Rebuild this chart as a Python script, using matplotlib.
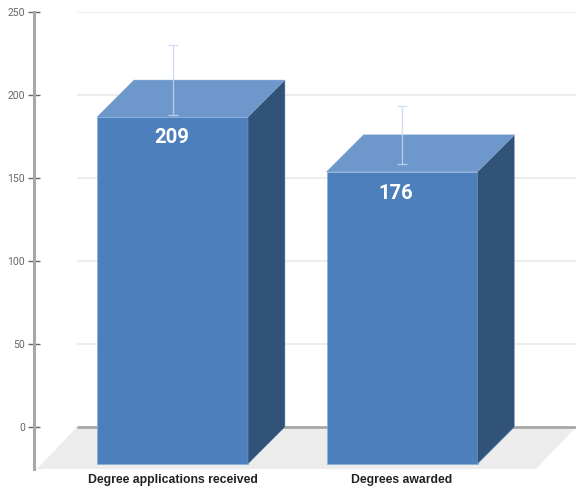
import matplotlib
matplotlib.use('Agg')
import matplotlib.pyplot as plt
from matplotlib.patches import Polygon

categories = ['Degree applications received', 'Degrees awarded']
values = [209, 176]
err_up = [21, 17.5]
err_down = [21, 17.5]
yticks = [0, 50, 100, 150, 200, 250]

# pixel scale of the reference
W, H = 576, 490
px_x = 229.5          # pixels between the two bars
px_y = 1.66           # pixels per unit on the value axis
ax_left, ax_top, ax_bottom = 34, 12, 469
x0 = 172.5            # pixel of first bar centre

depth_x = 37 / px_x
depth_y = 37 / px_y
bar_w = 151 / px_x

fig = plt.figure(figsize=(W / 100, H / 100), dpi=100)
ax = fig.add_axes([ax_left / W, 1 - ax_bottom / H, (W - ax_left) / W, (ax_bottom - ax_top) / H])
ax.set_xlim((ax_left - x0) / px_x, (W - x0) / px_x)
ax.set_ylim(-(ax_bottom - 427) / px_y, 250)
xmin, xmax = ax.get_xlim()
ymin, ymax = ax.get_ylim()

floor_left = (77 - x0) / px_x
floor_front = (37 - x0) / px_x
floor_right = (536 - x0) / px_x
ax.add_patch(Polygon([(floor_left, 0), (xmax, 0), (floor_right, ymin), (floor_front, ymin)],
                     closed=True, facecolor='#ececec', edgecolor='none', zorder=1))

ax.hlines([t for t in yticks if t > 0], floor_left, xmax, color='#e9e9e9', linewidth=1.2, zorder=1)
ax.hlines(0, floor_left, xmax, color='#a8a8a8', linewidth=2, zorder=2)

xs = list(range(len(values)))
ax.bar(xs, values, bar_w, bottom=-depth_y, color='#4d7fbc', edgecolor='#8fb0d8', linewidth=0.5, zorder=3)
for x, v in zip(xs, values):
    l, r = x - bar_w / 2, x + bar_w / 2
    ax.add_patch(Polygon([(l, v - depth_y), (r, v - depth_y), (r + depth_x, v), (l + depth_x, v)],
                         closed=True, facecolor='#6e98cb', edgecolor='#7ea3d2', linewidth=0.3, zorder=3))
    ax.add_patch(Polygon([(r, v - depth_y), (r + depth_x, v), (r + depth_x, 0), (r, -depth_y)],
                         closed=True, facecolor='#325378', edgecolor='#8fb0d8', linewidth=0.3, zorder=3))

ax.errorbar(xs, values, yerr=[err_down, err_up], fmt='none', ecolor='#c6d9ee', elinewidth=0.9,
            capsize=3.6, capthick=0.9, alpha=0.85, zorder=4)

label_shift = [-0.5 / px_x, -6.5 / px_x]
label_drop = [20, 22]
for x, v, s, d in zip(xs, values, label_shift, label_drop):
    ax.text(x + s, v - depth_y - d / px_y, str(v), color='white', fontsize=14.6, fontweight='bold',
            family='Roboto', ha='center', va='center', zorder=5)

for side in ['top', 'right', 'bottom']:
    ax.spines[side].set_visible(False)
ax.spines['left'].set_color('#a8a8a8')
ax.spines['left'].set_linewidth(2.2)

ax.set_yticks(yticks)
ax.tick_params(axis='y', direction='inout', length=8, width=1, color='#666666',
               labelcolor='#666666', labelsize=7.5, pad=2.5)
for t in ax.get_yticklabels():
    t.set_family('Roboto')

ax.set_xticks(xs)
ax.set_xticklabels(categories, family='Liberation Sans', fontweight='bold', fontsize=8.8, color='#222222')
ax.tick_params(axis='x', length=0, pad=3.5)

fig.savefig('out.png', dpi=100)
